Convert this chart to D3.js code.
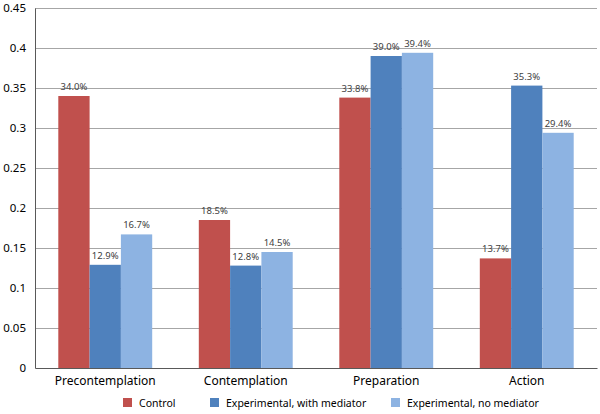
<!DOCTYPE html>
<html><head><meta charset="utf-8">
<script src="https://cdn.jsdelivr.net/npm/d3@7"></script>
<style>body{margin:0;background:#fff;} svg{display:block;font-family:"Noto Sans","Open Sans",sans-serif;}</style>
</head><body><svg id="c" width="600" height="414"></svg>
<script>
const categories = ["Precontemplation","Contemplation","Preparation","Action"];
const seriesNames = ["Control","Experimental, with mediator","Experimental, no mediator"];
const control = [0.340,0.185,0.338,0.137];
const withMediator = [0.129,0.128,0.390,0.353];
const noMediator = [0.167,0.145,0.394,0.294];
const yTicks = [0,0.05,0.1,0.15,0.2,0.25,0.3,0.35,0.4,0.45];
const colors = ["#C0504D","#4F81BD","#8DB3E2"];

const series = [control, withMediator, noMediator];
const svg = d3.select("#c");
const L=35, R=597, T=8, B=368;
const x = d3.scaleBand().domain(categories).range([L,R]).paddingInner(0).paddingOuter(0);
const y = d3.scaleLinear().domain([0,0.45]).range([B,T]);
const bw = 31.3;
const x1 = d3.scaleBand().domain(seriesNames).range([0,bw*3]);

// gridlines
svg.append("g").selectAll("line").data(yTicks.filter(d=>d>0)).join("line")
  .attr("x1",L).attr("x2",R).attr("y1",d=>y(d)+0.5).attr("y2",d=>y(d)+0.5)
  .attr("stroke","#a6a6a6").attr("stroke-width",1);

// bars
const groups = svg.append("g").selectAll("g").data(categories).join("g")
  .attr("transform",c=>`translate(${x(c)+x.bandwidth()/2-bw*1.5},0)`);
groups.each(function(c,i){
  const g=d3.select(this);
  seriesNames.forEach((s,j)=>{
    const v=series[j][i];
    g.append("rect").attr("x",x1(s)).attr("width",x1.bandwidth())
      .attr("y",y(v)).attr("height",B-y(v)).attr("fill",colors[j]);
    g.append("text").attr("x",x1(s)+x1.bandwidth()/2).attr("y",y(v)-6)
      .attr("text-anchor","middle").attr("font-size",9.5).attr("fill","#404040")
      .text((v*100).toFixed(1)+"%");
  });
});

// axes
const ya = svg.append("g").attr("transform",`translate(${L},0)`)
  .call(d3.axisLeft(y).tickValues(yTicks).tickSize(0).tickPadding(9).tickFormat(d=>d3.format("")(+d.toFixed(2))));
ya.select(".domain").attr("stroke","#595959");
ya.selectAll("text").attr("font-size",11.5).attr("fill","#000").attr("font-family","Noto Sans");
const xa = svg.append("g").attr("transform",`translate(0,${B})`)
  .call(d3.axisBottom(x).tickSize(0).tickPadding(8));
xa.select(".domain").attr("stroke","#595959");
xa.selectAll("text").attr("font-size",12).attr("fill","#000").attr("font-family","Noto Sans");

// legend
const legX=[123,210,391];
const leg = svg.append("g").selectAll("g").data(seriesNames).join("g")
  .attr("transform",(d,i)=>`translate(${legX[i]},398)`);
leg.append("rect").attr("width",9).attr("height",9).attr("fill",(d,i)=>colors[i]);
leg.append("text").attr("x",16).attr("y",8.5).attr("font-size",10.5).attr("fill","#000").text(d=>d);
</script></body></html>
